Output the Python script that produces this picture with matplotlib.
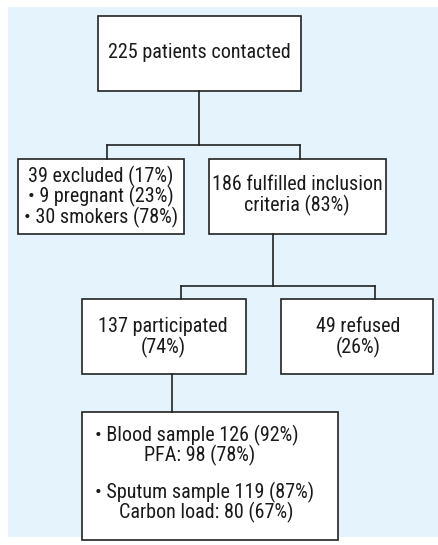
import matplotlib
matplotlib.use('Agg')
import matplotlib.pyplot as plt
from matplotlib.patches import Rectangle

plt.rcParams['font.family'] = ['Roboto Condensed', 'Liberation Sans Narrow', 'Liberation Sans', 'DejaVu Sans']

# Flowchart content
box_names = ['contacted', 'excluded', 'fulfilled', 'participated', 'refused', 'samples']
box_texts = [
    ['225 patients contacted'],
    ['39 excluded (17%)', '\u2022 9 pregnant (23%)', '\u2022 30 smokers (78%)'],
    ['186 fulfilled inclusion', 'criteria (83%)'],
    ['137 participated', '(74%)'],
    ['49 refused', '(26%)'],
    ['\u2022 Blood sample 126 (92%)', 'PFA: 98 (78%)',
     '\u2022 Sputum sample 119 (87%)', 'Carbon load: 80 (67%)'],
]

# layout in pixel units (x0, y0, x1, y1)
boxes = {
    'contacted': (98, 16, 301, 91),
    'excluded': (18, 159, 184, 234),
    'fulfilled': (209, 159, 386, 234),
    'participated': (82, 299, 246, 374),
    'refused': (281, 299, 433, 374),
    'samples': (82, 412, 338, 540),
}

W, H = 439, 545
fig = plt.figure(figsize=(W / 100, H / 100), dpi=100)
ax = fig.add_axes([0, 0, 1, 1])
ax.set_xlim(0, W)
ax.set_ylim(H, 0)
ax.axis('off')

# light blue panel
ax.add_patch(Rectangle((8, 7), W - 8, 530, facecolor='#e5f4fc', edgecolor='none'))

lw = 1.2
for name in box_names:
    x0, y0, x1, y1 = boxes[name]
    ax.add_patch(Rectangle((x0, y0), x1 - x0, y1 - y0, facecolor='white',
                           edgecolor='#222222', linewidth=lw))

fs = 14.5
tc = '#1a1a1a'
# box 1
ax.text(199, 52, box_texts[0][0], ha='center', va='center', fontsize=fs, color=tc)
# excluded
for i, t in enumerate(box_texts[1]):
    ax.text(101, 176 + i * 20.5, t, ha='center', va='center', fontsize=fs, color=tc)
# fulfilled
for i, t in enumerate(box_texts[2]):
    ax.text(297, 184 + i * 21, t, ha='center', va='center', fontsize=fs, color=tc)
# participated / refused
for i, t in enumerate(box_texts[3]):
    ax.text(163, 327 + i * 20, t, ha='center', va='center', fontsize=fs, color=tc)
for i, t in enumerate(box_texts[4]):
    ax.text(358, 327 + i * 20, t, ha='center', va='center', fontsize=fs, color=tc)
# samples
sx = [95, 144, 95, 119]
sy = [435, 455, 492, 512]
for t, x, y in zip(box_texts[5], sx, sy):
    ax.text(x, y, t, ha='left', va='center', fontsize=fs, color=tc)

# connectors
c = '#222222'
ax.plot([199, 199], [91, 145], color=c, lw=lw)
ax.plot([107, 300], [145, 145], color=c, lw=lw)
ax.plot([107, 107], [145, 159], color=c, lw=lw)
ax.plot([300, 300], [145, 159], color=c, lw=lw)
ax.plot([273, 273], [234, 286], color=c, lw=lw)
ax.plot([181, 375], [286, 286], color=c, lw=lw)
ax.plot([181, 181], [286, 299], color=c, lw=lw)
ax.plot([375, 375], [286, 299], color=c, lw=lw)
ax.plot([172, 172], [374, 412], color=c, lw=lw)

fig.savefig('out.png', dpi=100)
